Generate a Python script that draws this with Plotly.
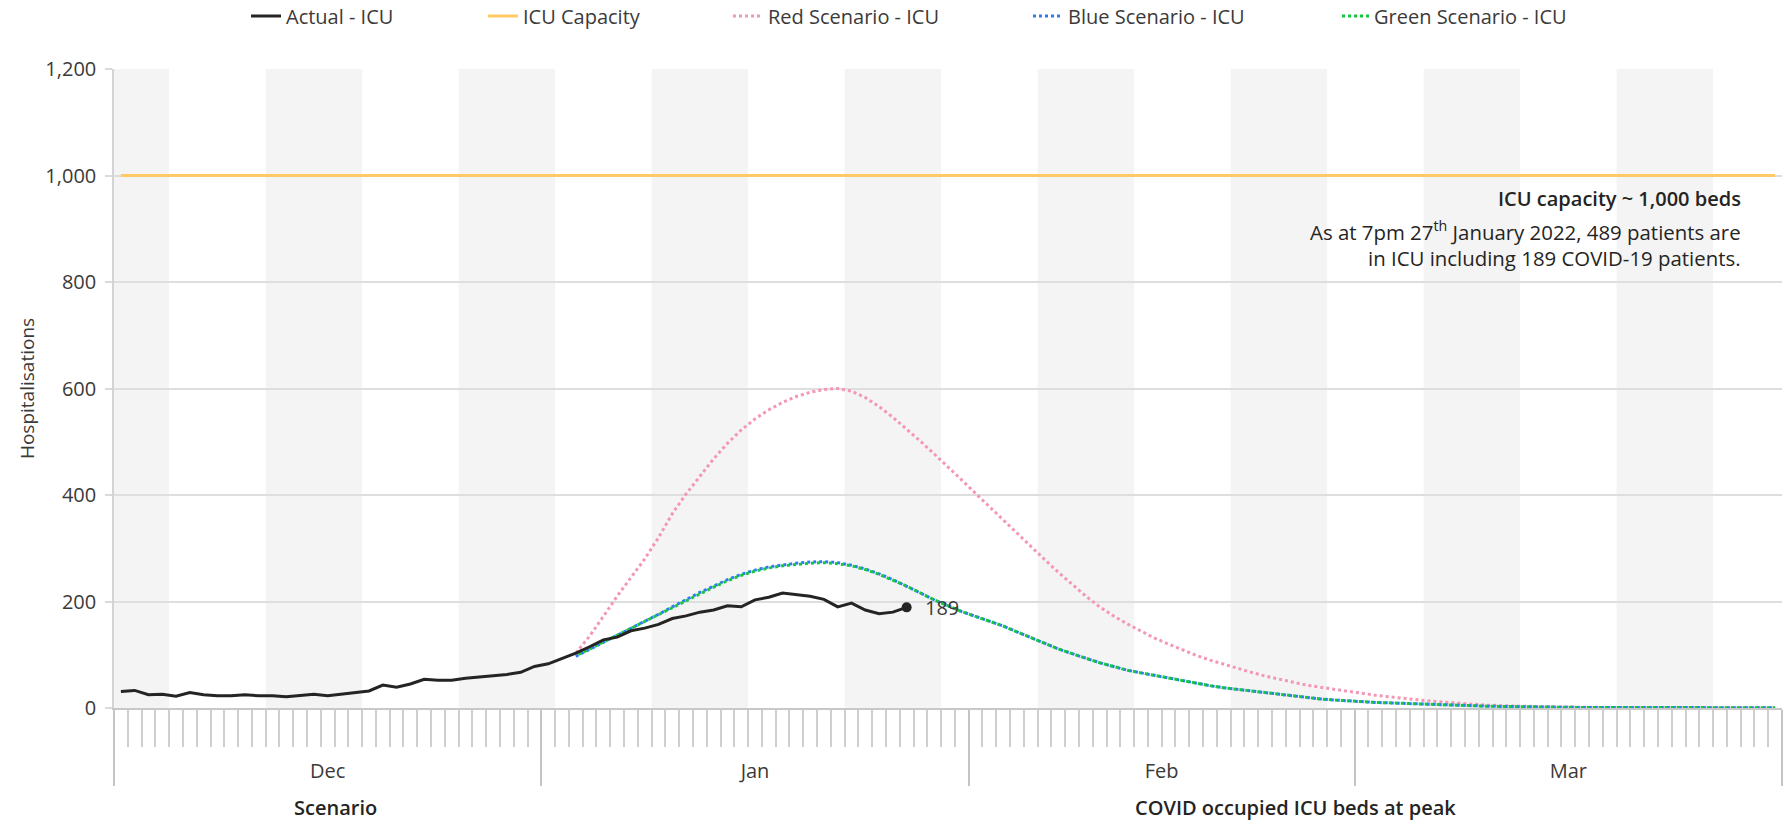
import pandas as pd
import plotly.graph_objects as go

# ---------------- data ----------------
dates = pd.date_range("2021-12-01 12:00", "2022-03-31 12:00", freq="D")

actual_icu = [31, 33, 25, 26, 22, 29, 25, 23, 23, 25, 23, 23, 21, 23, 26, 23, 26, 28, 32, 43,
              39, 45, 54, 52, 52, 56, 58, 61, 63, 67, 78, 83, 93, 103, 115, 128, 133, 145, 150, 157,
              168, 173, 180, 184, 192, 190, 203, 208, 216, 213, 210, 204, 190, 197, 184, 177, 180, 189]

scenario_start = 33  # 3 January 2022

red_icu = [103, 135, 172, 210, 245, 280, 320, 365, 402, 436, 468, 497, 522, 543, 560, 574, 585, 593,
           598, 600, 595, 583, 566, 546, 524, 501, 477, 453, 428, 403, 378, 353, 328, 303, 279, 255,
           232, 210, 190, 173, 158, 144, 131, 120, 109, 99, 90, 82, 74, 67, 60, 54, 48, 43, 39, 35,
           31, 27, 24, 21, 18, 16, 13, 11, 9, 7, 5.5, 4.5, 3.5, 3, 2.5, 2, 1.5, 1, 1, 1, 1, 1,
           0.5, 0.5, 0.5, 0.5, 0.5, 0.5, 0.5, 0.5, 0.5, 0.5]

blue_icu = [97, 110, 123, 136, 149, 162, 176, 190, 204, 217, 229, 241, 251, 259, 265, 269, 272, 274,
            275, 273, 268, 261, 252, 241, 229, 216, 203, 192, 181, 172, 163, 154, 143, 132, 121, 111,
            102, 93, 85, 78, 71, 66, 61, 56, 51, 46, 42, 38, 35, 31, 28, 26, 22, 19, 17, 15,
            13, 12, 10.5, 9.5, 9, 8, 7, 6, 5, 4, 3.5, 3, 2.5, 2, 2, 1.5, 1.5, 1, 1, 1, 1, 1,
            0.5, 0.5, 0.5, 0.5, 0.5, 0.5, 0.5, 0.5, 0.5, 0.5]

green_icu = [98, 111, 124, 137, 150, 162, 175, 188, 202, 215, 227, 239, 249, 257, 263, 267, 270, 272,
             273, 271, 267, 260, 251, 240, 229, 216, 203, 192, 181, 172, 163, 154, 143, 132, 121, 111,
             102, 93, 85, 78, 71, 66, 61, 56, 51, 46, 42, 38, 35, 31, 28, 26, 22, 19, 17, 15,
             13, 12, 10.5, 9.5, 9, 8, 7, 6, 5, 4, 3.5, 3, 2.5, 2, 2, 1.5, 1.5, 1, 1, 1, 1, 1,
             0.5, 0.5, 0.5, 0.5, 0.5, 0.5, 0.5, 0.5, 0.5, 0.5]

icu_capacity = [1000] * len(dates)

y_ticks = [0, 200, 400, 600, 800, 1000, 1200]

# fortnightly shaded weeks
band_starts = pd.date_range("2021-11-28", "2022-03-31", freq="14D")
x_start = pd.Timestamp("2021-12-01")
x_end = pd.Timestamp("2022-04-01")

FONT = "Segoe UI, Open Sans, sans-serif"
TXT = "#3B3A39"
DARK = "#252423"
W, H = 1791, 822

fig = go.Figure()
scen_dates = dates[scenario_start:]

fig.add_trace(go.Scatter(x=dates, y=icu_capacity, name="ICU Capacity", mode="lines",
                         line=dict(color="#FFC966", width=3), legend="legend2"))
fig.add_trace(go.Scatter(x=scen_dates, y=red_icu, name="Red Scenario - ICU", mode="lines",
                         line=dict(color="#F497B4", width=3, dash="3px,3px"), legend="legend3"))
fig.add_trace(go.Scatter(x=scen_dates, y=blue_icu, name="Blue Scenario - ICU", mode="lines",
                         line=dict(color="#2F7BF5", width=3, dash="3px,3px"), legend="legend4"))
fig.add_trace(go.Scatter(x=scen_dates, y=green_icu, name="Green Scenario - ICU", mode="lines",
                         line=dict(color="#16C83C", width=3, dash="0px,3px,3px,0px"), legend="legend5"))
fig.add_trace(go.Scatter(x=dates[:len(actual_icu)], y=actual_icu, name="Actual - ICU", mode="lines",
                         line=dict(color=DARK, width=3), legend="legend"))
fig.add_trace(go.Scatter(x=[dates[len(actual_icu) - 1]], y=[actual_icu[-1]], mode="markers",
                         marker=dict(color=DARK, size=10), showlegend=False))

shapes = []
for s in band_starts:
    x0 = max(s, x_start)
    x1 = min(s + pd.Timedelta(days=7), x_end)
    if x1 <= x0:
        continue
    shapes.append(dict(type="rect", xref="x", yref="y", x0=x0, x1=x1, y0=0, y1=y_ticks[-1],
                       fillcolor="#F4F4F4", line=dict(width=0), layer="below"))

annotations = [
    dict(x=dates[len(actual_icu) - 1], y=actual_icu[-1], xref="x", yref="y", text=str(actual_icu[-1]),
         showarrow=False, xanchor="left", yanchor="middle", xshift=16,
         font=dict(family=FONT, size=20, color=TXT)),
    dict(x=0.9766, y=0.797, xref="paper", yref="paper", text="ICU capacity ~ 1,000 beds",
         showarrow=False, xanchor="right", yanchor="middle",
         font=dict(family=FONT, size=20, color=DARK, weight=600)),
    dict(x=0.9766, y=0.747, xref="paper", yref="paper",
         text="As at 7pm 27<sup>th</sup> January 2022, 489 patients are",
         showarrow=False, xanchor="right", yanchor="middle",
         font=dict(family=FONT, size=20.4, color=DARK)),
    dict(x=0.9766, y=0.705, xref="paper", yref="paper",
         text="in ICU including 189 COVID-19 patients.",
         showarrow=False, xanchor="right", yanchor="middle",
         font=dict(family=FONT, size=20.4, color=DARK)),
    dict(x=0.1325, y=-0.156, xref="paper", yref="paper", text="Scenario",
         showarrow=False, xanchor="center", yanchor="middle",
         font=dict(family=FONT, size=20, color=DARK, weight=600)),
    dict(x=0.7086, y=-0.156, xref="paper", yref="paper", text="COVID occupied ICU beds at peak",
         showarrow=False, xanchor="center", yanchor="middle",
         font=dict(family=FONT, size=20, color=DARK, weight=600)),
]

# one legend per entry so the entries sit where the reference places them
legend_text_px = [291, 528, 773, 1073, 1379]
legend_keys = ["legend", "legend2", "legend3", "legend4", "legend5"]
legends = {}
for key, px in zip(legend_keys, legend_text_px):
    legends[key] = dict(orientation="h", xref="container", yref="container",
                        x=(px - 45) / W, xanchor="left", y=1 - 16 / H, yanchor="middle",
                        font=dict(family=FONT, size=20, color=TXT), bgcolor="rgba(0,0,0,0)")

fig.update_layout(
    width=W, height=H,
    margin=dict(l=114, r=9, t=69, b=114),
    paper_bgcolor="white", plot_bgcolor="white",
    font=dict(family=FONT, size=20, color=TXT),
    showlegend=True,
    shapes=shapes,
    annotations=annotations,
    hovermode=False,
    **legends,
)

fig.update_xaxes(
    type="date", range=[x_start, x_end], showgrid=False, zeroline=False,
    showline=True, linecolor="#C8C8C8", linewidth=1.5,
    ticks="outside", tickmode="linear", tick0="2021-12-01", dtick="M1",
    ticklen=76, tickwidth=1.5, tickcolor="#C4C4C4",
    ticklabelmode="period", tickformat="%b", ticklabelstandoff=-32,
    tickfont=dict(family=FONT, size=20, color=TXT),
    minor=dict(ticks="outside", dtick=86400000, tick0="2021-12-01", ticklen=37,
               tickwidth=1.5, tickcolor="#CFCFCF", showgrid=False),
)

fig.update_yaxes(
    range=[0, y_ticks[-1]], tickmode="array", tickvals=y_ticks, tickformat=",d",
    showgrid=True, gridcolor="#DEDEDE", gridwidth=1.5, zeroline=False,
    showline=True, linecolor="#D4D4D4", linewidth=1.5,
    ticks="outside", ticklen=7, tickwidth=1.5, tickcolor="#DADADA",
    ticklabelstandoff=5,
    tickfont=dict(family=FONT, size=20, color=TXT),
    title=dict(text="Hospitalisations", standoff=6, font=dict(family=FONT, size=19, color=TXT)),
)

fig.write_html("out.html", config={"displayModeBar": False},
               post_script="document.body.style.margin='0';")
